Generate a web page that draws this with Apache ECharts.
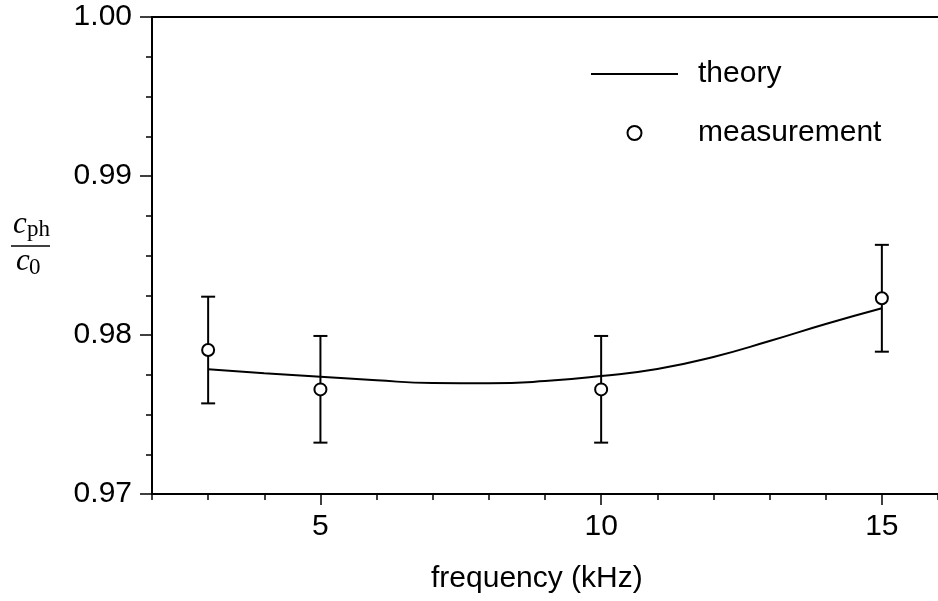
<!DOCTYPE html>
<html>
<head>
<meta charset="utf-8">
<script src="https://cdn.jsdelivr.net/npm/echarts@6/dist/echarts.min.js"></script>
<style>html,body{margin:0;padding:0;background:#fff;}#c{width:938px;height:601px;}</style>
</head>
<body>
<div id="c"></div>
<script>
// ---- data ----
const theoryFreq  = [3, 4, 5, 6, 7, 8, 9, 10, 11, 12, 13, 14, 15];
const theoryValue = [0.97784, 0.97760, 0.97738, 0.97715, 0.97698, 0.97696, 0.97710, 0.97742, 0.97786, 0.97862, 0.97962, 0.98069, 0.98168];
const measFreq  = [3, 5, 10, 15];
const measValue = [0.97906, 0.97658, 0.97658, 0.98231];
const errLow    = [0.97570, 0.97323, 0.97323, 0.97895];
const errHigh   = [0.98241, 0.97994, 0.97994, 0.98567];
const xMajorTicks = [5, 10, 15];
const seriesNames = ['theory', 'measurement'];
const xTitle = 'frequency (kHz)';

const FONT = '"Liberation Sans", Arial, Helvetica, sans-serif';
const SERIF = '"Liberation Serif", "Times New Roman", serif';

const chart = echarts.init(document.getElementById('c'), null, {renderer: 'canvas'});

const theoryData = theoryFreq.map((f, i) => [f, theoryValue[i]]);
const measData = measFreq.map((f, i) => [f, measValue[i]]);
const errData = measFreq.map((f, i) => [f, errLow[i], errHigh[i]]);

const option = {
  animation: false,
  backgroundColor: '#ffffff',
  grid: {left: 152, top: 17, width: 793.8, height: 477, containLabel: false},
  legend: {
    data: [
      {name: seriesNames[0], itemStyle: {color: 'transparent', borderWidth: 0, opacity: 0}},
      {name: seriesNames[1]}
    ],
    orient: 'vertical',
    left: 585,
    top: 54,
    itemWidth: 87,
    itemHeight: 14,
    itemGap: 29,
    selectedMode: false,
    textStyle: {fontFamily: FONT, fontSize: 30, color: '#000', lineHeight: 30, padding: [0, 0, 0, 15]}
  },
  xAxis: [
    {
      type: 'value', min: 2, max: 16, position: 'bottom',
      axisLine: {show: true, onZero: false, lineStyle: {color: '#000', width: 2}},
      axisTick: {show: true, customValues: xMajorTicks, length: 11, lineStyle: {color: '#000', width: 1.5}},
      axisLabel: {show: true, customValues: xMajorTicks, margin: 18, fontFamily: FONT, fontSize: 30, color: '#000'},
      splitLine: {show: false}
    },
    {
      type: 'value', min: 2, max: 16, interval: 1, position: 'bottom',
      axisLine: {show: false},
      axisTick: {show: true, length: 6, lineStyle: {color: '#000', width: 1.5}},
      axisLabel: {show: false},
      splitLine: {show: false}
    },
    {
      type: 'value', min: 2, max: 16, position: 'top',
      axisLine: {show: true, onZero: false, lineStyle: {color: '#000', width: 2}},
      axisTick: {show: false},
      axisLabel: {show: false},
      splitLine: {show: false}
    }
  ],
  yAxis: {
    type: 'value', min: 0.97, max: 1.00, interval: 0.01,
    axisLine: {show: true, onZero: false, lineStyle: {color: '#000', width: 2}},
    axisTick: {show: true, length: 12, lineStyle: {color: '#000', width: 1.5}},
    minorTick: {show: true, splitNumber: 4, length: 6, lineStyle: {color: '#000', width: 1.5}},
    axisLabel: {margin: 20, fontFamily: FONT, fontSize: 30, color: '#000',
      formatter: v => v.toFixed(2)},
    splitLine: {show: false}
  },
  graphic: [
    {type: 'text', left: 537 - 106, top: 564, style: {text: xTitle, font: '30px ' + FONT, fill: '#000'}},
    {type: 'text', x: 13, y: 225, style: {text: 'c', font: 'italic 31px ' + SERIF, fill: '#000', verticalAlign: 'middle'}},
    {type: 'text', x: 27, y: 230, style: {text: 'ph', font: '23px ' + SERIF, fill: '#000', verticalAlign: 'middle'}},
    {type: 'line', shape: {x1: 11, y1: 246, x2: 50, y2: 246}, style: {stroke: '#000', lineWidth: 1.3}},
    {type: 'text', x: 16, y: 262, style: {text: 'c', font: 'italic 31px ' + SERIF, fill: '#000', verticalAlign: 'middle'}},
    {type: 'text', x: 29, y: 268, style: {text: '0', font: '23px ' + SERIF, fill: '#000', verticalAlign: 'middle'}}
  ],
  series: [
    {
      name: 'errorbars', type: 'custom', xAxisIndex: 0, yAxisIndex: 0, z: 2,
      data: errData,
      renderItem: function (params, api) {
        const x = api.value(0);
        const lo = api.coord([x, api.value(1)]);
        const hi = api.coord([x, api.value(2)]);
        const hw = 7;
        const st = {stroke: '#000', lineWidth: 2};
        return {type: 'group', children: [
          {type: 'line', shape: {x1: lo[0], y1: lo[1], x2: hi[0], y2: hi[1]}, style: st},
          {type: 'line', shape: {x1: lo[0] - hw, y1: lo[1], x2: lo[0] + hw, y2: lo[1]}, style: st},
          {type: 'line', shape: {x1: hi[0] - hw, y1: hi[1], x2: hi[0] + hw, y2: hi[1]}, style: st}
        ]};
      }
    },
    {
      name: 'theory', type: 'line', xAxisIndex: 0, yAxisIndex: 0, z: 3,
      data: theoryData, smooth: true, symbol: 'none', showSymbol: false,
      lineStyle: {color: '#000', width: 2},
      itemStyle: {color: '#000'}
    },
    {
      name: 'measurement', type: 'scatter', xAxisIndex: 0, yAxisIndex: 0, z: 4,
      data: measData, symbol: 'circle', symbolSize: 12,
      itemStyle: {color: '#fff', borderColor: '#000', borderWidth: 2, opacity: 1}
    }
  ]
};
chart.setOption(option);
</script>
</body>
</html>
